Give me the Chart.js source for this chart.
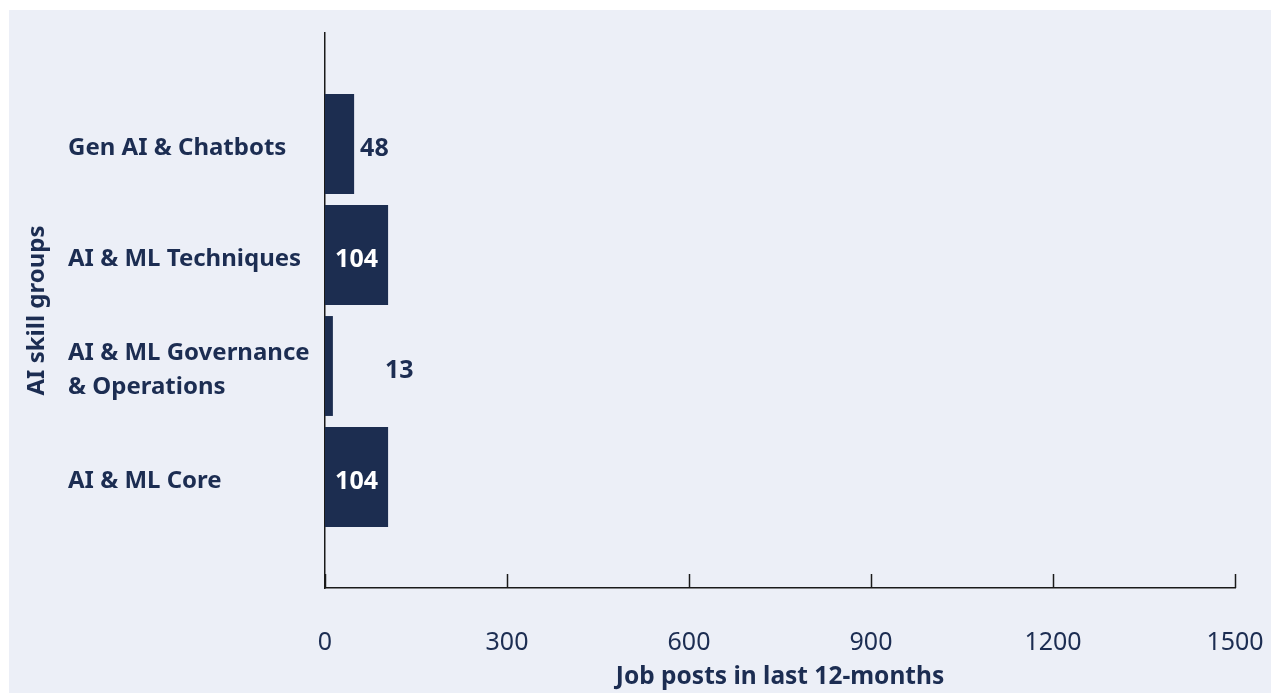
<!DOCTYPE html>
<html lang="en">
<head>
    <meta charset="UTF-8">
    <title>AI skill groups</title>
    <script src="https://cdn.jsdelivr.net/npm/chart.js"></script>
    <style>
        body { margin: 0; background: #ffffff; }
        .panel { position: absolute; left: 9px; top: 10px; width: 1262px; height: 683px; background: #eceff7; }
    </style>
</head>
<body>
    <div class="panel">
        <canvas id="skillsChart" width="1262" height="683"></canvas>
    </div>

    <script>
        const categories = ['Gen AI & Chatbots', 'AI & ML Techniques', ['AI & ML Governance', '& Operations'], 'AI & ML Core'];
        const jobPosts = [48, 104, 13, 104];
        const xTicks = [0, 300, 600, 900, 1200, 1500];

        const navy = '#1c2d52';
        const font = "'Noto Sans', sans-serif";

        // empty slots above and below so the bars sit on evenly spaced rows
        const labels = [''].concat(categories, ['']);
        const values = [null].concat(jobPosts, [null]);

        // short upward tick marks on the x axis
        const innerTicks = {
            id: 'innerTicks',
            afterDraw(chart) {
                const ctx = chart.ctx;
                const x = chart.scales.x;
                const bottom = chart.chartArea.bottom;
                ctx.save();
                ctx.strokeStyle = '#1a1a1a';
                ctx.lineWidth = 1.5;
                xTicks.forEach(v => {
                    const px = Math.round(x.getPixelForValue(v)) + 0.5;
                    ctx.beginPath();
                    ctx.moveTo(px, bottom);
                    ctx.lineTo(px, bottom - 14);
                    ctx.stroke();
                });
                ctx.restore();
            }
        };

        // value labels: inside the wide bars, to the right of the short ones
        const valueLabels = {
            id: 'valueLabels',
            afterDatasetsDraw(chart) {
                const ctx = chart.ctx;
                const meta = chart.getDatasetMeta(0);
                ctx.save();
                ctx.font = 'bold 25px ' + font;
                ctx.textBaseline = 'middle';
                meta.data.forEach((bar, i) => {
                    const v = values[i];
                    if (v === null) return;
                    const y = bar.y + 5;
                    if (v >= 100) {
                        ctx.fillStyle = '#ffffff';
                        ctx.textAlign = 'center';
                        ctx.fillText(v, (bar.x + bar.base) / 2, y);
                    } else {
                        ctx.fillStyle = navy;
                        ctx.textAlign = 'left';
                        ctx.fillText(v, bar.x + (v < 20 ? 52 : 6), y);
                    }
                });
                ctx.restore();
            }
        };

        new Chart(document.getElementById('skillsChart'), {
            type: 'bar',
            data: {
                labels: labels,
                datasets: [{
                    data: values,
                    backgroundColor: '#1c2d50',
                    barPercentage: 0.9,
                    categoryPercentage: 1.0
                }]
            },
            options: {
                indexAxis: 'y',
                responsive: false,
                animation: false,
                layout: { padding: { left: 59, top: 23, right: 36, bottom: 0 } },
                plugins: {
                    legend: { display: false },
                    tooltip: { enabled: false }
                },
                scales: {
                    y: {
                        type: 'category',
                        offset: false,
                        grid: { display: false, drawTicks: false },
                        border: { display: true, color: '#1a1a1a', width: 1.5 },
                        ticks: {
                            crossAlign: 'far',
                            color: navy,
                            autoSkip: false,
                            labelOffset: 4,
                            font: { family: font, size: 24, weight: 'bold', lineHeight: 1.4 }
                        },
                        title: {
                            display: true,
                            text: 'AI skill groups',
                            color: navy,
                            font: { family: font, size: 24, weight: 'bold', lineHeight: 1.2 },
                            padding: { top: -45, bottom: 0 }
                        },
                        afterFit(scale) { scale.width = 257; }
                    },
                    x: {
                        min: 0,
                        max: 1500,
                        afterBuildTicks(scale) { scale.ticks = xTicks.map(v => ({ value: v })); },
                        grid: { display: false, drawTicks: false },
                        border: { display: true, color: '#1a1a1a', width: 1.5 },
                        ticks: {
                            color: navy,
                            padding: 40,
                            maxRotation: 0,
                            callback: v => String(v),
                            font: { family: font, size: 25 }
                        },
                        title: {
                            display: true,
                            text: 'Job posts in last 12-months',
                            color: navy,
                            font: { family: font, size: 24.5, weight: 'bold', lineHeight: 1.2 },
                            padding: { top: 0, bottom: 1 }
                        },
                        afterFit(scale) {
                            scale.height = 105;
                            scale.paddingLeft = 0;
                            scale.paddingRight = 0;
                        }
                    }
                }
            },
            plugins: [innerTicks, valueLabels]
        });
    </script>
</body>
</html>
